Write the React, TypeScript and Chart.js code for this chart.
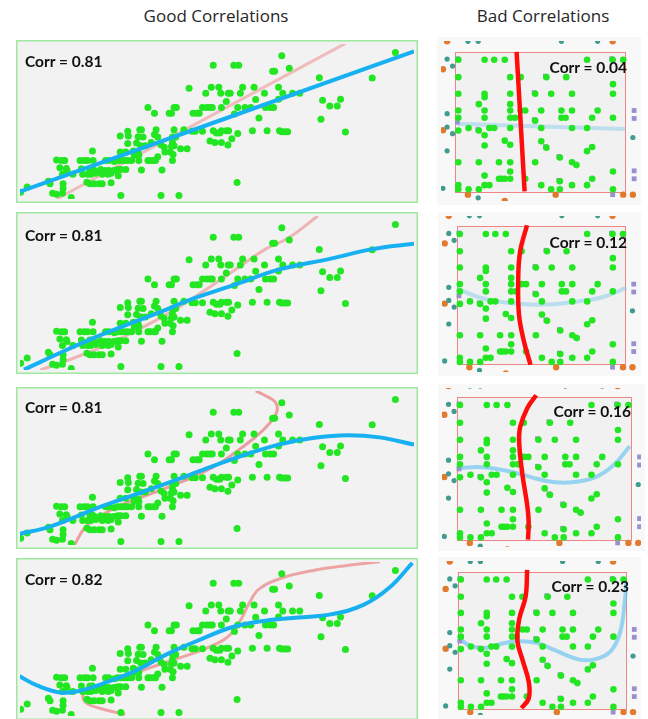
import React, { useEffect, useRef } from "react";
import { Chart, registerables } from "chart.js";
Chart.register(...registerables);

// ---------- Good correlations: scatter values ----------
const goodX = [80.2,59.2,65.5,67.0,82.5,77.4,78.0,115.0,91.7,107.9,51.8,58.6,60.9,71.7,68.2,79.2,56.9,61.5,63.8,64.4,67.5,74.9,80.5,83.5,85.7,63.2,72.2,79.2,92.7,94.9,97.2,98.2,39.2,47.2,47.9,55.9,57.2,58.2,58.9,61.7,66.7,68.9,70.7,75.2,76.7,77.7,41.2,45.7,46.4,53.0,54.2,54.9,65.7,73.2,92.2,36.7,37.2,41.7,47.2,50.2,52.7,53.7,55.9,59.2,60.2,61.2,61.7,63.2,63.9,66.7,71.2,75.7,79.5,80.2,81.2,82.0,99.7,30.7,33.2,33.0,36.2,37.7,41.2,42.2,46.7,47.7,58.2,59.7,61.7,64.9,63.7,33.0,35.7,37.0,38.4,40.2,43.2,46.7,47.2,49.2,51.2,44.2,46.4,22.2,30.7,32.4,34.7,36.2,35.0,36.4,42.2,44.4,46.0,46.9,11.2,12.7,13.7,18.4,19.7,20.7,22.4,26.2,27.2,28.9,29.9,30.9,32.0,33.0,34.2,36.4,39.2,39.9,40.9,41.5,46.7,12.2,14.2,14.4,18.8,21.4,22.2,22.8,24.7,26.2,27.3,28.8,30.0,30.9,32.4,37.2,43.5,13.0,16.2,19.2,20.7,21.7,23.2,25.2,27.0,27.9,30.1,8.7,9.2,13.2,20.5,21.4,22.7,24.2,25.2,27.9,66.5,2.2,13.2,0.2,10.0,11.2,13.0,15.7,30.9,43.2,48.7];
const goodY = [45.1,42.1,42.1,42.1,41.2,40.2,40.2,46.1,38.2,38.1,34.9,35.2,35.2,35.2,35.2,35.2,33.3,33.3,33.3,33.3,33.3,33.3,33.3,33.3,33.3,30.7,31.3,31.4,31.1,29.3,29.3,31.4,28.8,28.8,28.8,28.8,28.8,28.8,28.8,28.8,28.8,28.8,28.8,28.8,28.8,28.8,27.0,27.0,27.0,27.0,27.0,27.0,26.8,25.5,25.1,21.8,21.8,21.8,21.8,21.8,21.3,21.3,21.3,21.5,20.8,20.8,21.5,21.5,21.5,20.6,21.5,21.5,21.5,21.2,21.2,21.2,21.1,19.8,19.8,21.3,19.6,19.5,20.3,19.5,19.5,19.5,18.3,17.8,17.8,19.0,17.0,17.5,17.6,16.8,16.8,17.8,17.1,17.8,16.8,15.8,15.8,16.3,16.5,15.1,14.8,14.8,15.1,14.6,13.8,13.8,13.3,14.8,14.8,14.0,12.3,12.1,12.1,12.1,12.1,12.1,12.1,12.1,12.1,11.8,12.1,12.1,12.1,12.1,12.1,12.1,12.1,12.1,12.1,12.1,12.1,9.8,9.6,9.0,9.5,9.5,9.5,9.0,9.3,9.0,9.0,9.0,9.3,9.3,9.3,9.1,9.1,7.8,7.8,7.8,7.8,7.8,8.1,7.8,7.8,8.1,7.3,5.6,4.8,4.8,5.3,4.8,4.8,4.8,4.8,5.1,5.2,3.8,3.3,2.1,1.8,1.5,1.8,0.5,1.1,1.1,1.1];

// fitted curves (y on x = blue, x on y = pink)
const g1BlueX = [0, 120.7];
const g1BlueY = [2.3, 46.5];
const g1PinkX = [11.2, 99.7];
const g1PinkY = [0, 49];
const g2BlueX = [1.2,15.2,25.2,35.2,45.2,52.2,65.2,79.2,95.2,107.9,120.7];
const g2BlueY = [0.1,6.8,11.3,15.3,19.3,22.3,26.8,31.8,35.3,38.3,40.0];
const g2PinkX = [6.2,15.2,25.2,35.2,45.2,55.2,65.2,75.2,82.2,91.2];
const g2PinkY = [0,3.3,7.3,12.3,17.8,24.3,31.3,38.3,41.8,48.8];
const g3BlueX = [-0.3,9.2,25.2,40.2,52.2,65.2,79.2,90.2,100.2,110.2,120.7];
const g3BlueY = [3.5,5.8,12.3,17.8,22.3,27.3,31.8,34.0,34.8,34.1,31.8];
const g3PinkX = [16.7,19.7,23.2,30.2,40.2,50.2,60.2,67.2,72.2,76.2,78.7,78.2,75.2,72.2];
const g3PinkY = [0,5.3,8.3,12.3,16.3,20.3,25.3,30.3,34.3,38.3,42.3,45.3,47.3,48.8];
const g4BlueX = [-0.3,5.2,12.7,19.2,25.2,35.2,45.2,55.2,65.2,75.2,85.2,95.2,105.2,113.2,120.2];
const g4BlueY = [12.7,9.7,7.4,8.2,10.2,14.2,19.7,24.2,28.2,30.2,31.2,32.2,35.2,40.7,48.5];
const g4PinkX = [32.2,25.2,20.7,19.2,20.7,25.2,35.2,45.2,55.2,63.2,67.2,70.2,73.2,80.2,90.2,100.2,110.2];
const g4PinkY = [0.5,2.2,3.9,6.2,8.2,10.2,13.7,17.2,20.7,24.7,29.7,35.7,40.2,43.7,46.2,47.7,48.9];
const goodCorr = ["Corr = 0.81", "Corr = 0.81", "Corr = 0.81", "Corr = 0.82"];

// ---------- Bad correlations: scatter values ----------
const badX = [1.0,9.2,12.2,15.5,41.2,49.2,52.5,1.0,17.2,20.5,28.5,34.7,49.3,1.0,9.2,17.2,25.0,30.0,36.5,49.3,9.2,7.4,17.2,1.0,9.2,17.2,20.5,21.9,26.9,33.2,36.5,44.5,1.0,9.2,17.2,18.7,25.0,33.2,34.5,42.8,49.3,4.2,7.4,10.7,12.2,17.2,26.9,36.5,41.2,1.0,9.2,15.5,17.2,26.9,9.2,28.5,42.8,41.2,32.7,1.0,7.4,13.7,17.2,25.0,36.5,37.9,17.2,49.3,9.2,13.7,14.5,15.5,17.2,21.9,42.8,32.7,1.0,9.2,10.7,26.9,36.5,41.2,1.0,4.2,7.4,30.0,32.7,49.3];
const badY = [41.5,41.5,41.5,41.5,41.5,41.5,41.5,36.0,36.0,36.0,36.0,36.0,33.8,30.8,30.8,30.8,30.8,30.8,30.8,30.8,29.7,27.5,27.5,25.5,25.5,25.5,25.5,25.5,25.5,25.5,25.5,25.5,23.2,23.2,23.2,23.2,22.3,23.2,23.2,23.2,23.2,20.0,19.2,20.0,20.0,20.0,20.0,20.0,20.0,19.2,17.7,16.0,14.7,15.8,14.5,13.8,14.0,12.7,10.7,9.2,9.2,9.2,9.2,9.2,9.2,8.3,6.3,6.3,5.0,4.0,4.0,4.0,4.0,4.0,4.0,3.2,2.0,2.0,2.0,2.0,2.0,2.0,0.7,0.7,0.7,0.7,0.7,0.7];
const tealX = [-2.5,-0.8,-2.5,-2.5,-0.8,-2.5,-3.8,7.2,4.0,7.2,33.2,44.5,55.5];
const tealY = [41.7,39.5,24.5,20.3,18.2,12.8,1.0,-2.0,47.3,47.3,47.3,47.3,17.0];
const orangeX = [-3.8,-3.8,4.0,31.4,52.5,55.5,-2.5,49.2,15.5];
const orangeY = [38.5,19.3,-1.0,-1.0,-1.0,-1.0,47.3,47.3,-3.0];
const purpleX = [49.2,55.9,55.9,55.9,55.9,48.9,24.7,28.2,24.7,28.2,32.4,37.6,32.4,7.1,0.7,0.7];
const purpleY = [-1.0,25.5,23.0,6.5,4.0,41.8,31.1,36.3,22.6,14.1,11.0,8.6,3.5,19.5,21.8,41.8];

const b1RedX = [19.2, 21.7];
const b1RedY = [44.0, 0];
const b1BlueX = [0.7, 53.2];
const b1BlueY = [21.3, 19.7];
const b2RedX = [22.2,20.0,19.4,19.7,21.2,23.3];
const b2RedY = [44.3,35.7,25.6,15.5,7.4,-0.2];
const b2BlueX = [0,8.1,18.2,28.3,38.4,46.5,53.6];
const b2BlueY = [24.1,21.0,19.3,19.0,20.0,21.5,24.4];
const b3RedX = [24.3,21.6,19.4,19.1,20.1,21.6,22.0,21.8];
const b3RedY = [44.5,40.6,34.7,29.8,20.0,10.3,5.4,0];
const b3BlueX = [0,7.8,17.6,27.4,34.3,42.1,48.0,52.9];
const b3BlueY = [22.0,22.3,20.7,18.1,17.6,19.1,23.0,28.8];
const b4RedX = [22.0,21.5,19.5,18.9,20.5,22.5,22.5,20.2];
const b4RedY = [44.6,36.0,28.9,21.9,15.8,8.7,3.4,0.3];
const b4BlueX = [0.2,2.7,7.8,12.9,18.9,25.0,31.1,38.2,43.3,48.3,51.4,52.9,53.4];
const b4BlueY = [23.7,20.9,19.5,20.7,21.7,21.2,18.7,15.9,15.9,18.4,24.5,34.6,40.7];
const badCorr = ["Corr = 0.04", "Corr = 0.12", "Corr = 0.16", "Corr = 0.23"];

const GOOD_XMAX = 120.7;
const GOOD_YMAX = 48.8;
const BAD_XMAX = 53.2;
const BAD_YMAX = 44;

const pts = (xs: number[], ys: number[]) => xs.map((x, i) => ({ x, y: ys[i] }));

const lineDs = (xs: number[], ys: number[], color: string, width: number, order: number) => ({
  type: "scatter",
  data: pts(xs, ys),
  showLine: true,
  borderColor: color,
  backgroundColor: color,
  borderWidth: width,
  pointRadius: 0,
  tension: 0.4,
  fill: false,
  order,
});

const dotDs = (xs: number[], ys: number[], color: string, order: number, style = "circle", r = 3.5) => ({
  type: "scatter",
  data: pts(xs, ys),
  backgroundColor: color,
  borderWidth: 0,
  pointRadius: r,
  pointStyle: style,
  order,
});

const goodDeco = {
  id: "goodDeco",
  beforeDraw(chart: any) {
    const { ctx, width, height } = chart;
    ctx.save();
    ctx.fillStyle = "#f2f2f2";
    ctx.fillRect(0, 0, width, height);
    ctx.restore();
  },
  afterDraw(chart: any) {
    const { ctx, width, height } = chart;
    ctx.save();
    ctx.strokeStyle = "#9fe89f";
    ctx.lineWidth = 1.5;
    ctx.strokeRect(0.75, 0.75, width - 1.5, height - 1.5);
    ctx.restore();
  },
};

const badDeco = {
  id: "badDeco",
  beforeDraw(chart: any) {
    const { ctx, width, height } = chart;
    ctx.save();
    ctx.fillStyle = "#f8f8f8";
    ctx.fillRect(0, 0, width, height);
    ctx.restore();
  },
  beforeDatasetsDraw(chart: any) {
    const { ctx, scales } = chart;
    const l = scales.x.getPixelForValue(0);
    const r = scales.x.getPixelForValue(BAD_XMAX);
    const t = scales.y.getPixelForValue(BAD_YMAX);
    const b = scales.y.getPixelForValue(0);
    ctx.save();
    ctx.fillStyle = "#f1f1f1";
    ctx.fillRect(l, t, r - l, b - t);
    ctx.strokeStyle = "#f08585";
    ctx.lineWidth = 1;
    ctx.strokeRect(Math.round(l) + 0.5, Math.round(t) + 0.5, Math.round(r - l), Math.round(b - t));
    ctx.restore();
  },
};

type Rect = { left: number; top: number; width: number; height: number };

function ChartCanvas({ rect, config }: { rect: Rect; config: any }) {
  const ref = useRef<HTMLCanvasElement>(null);
  useEffect(() => {
    const chart = new Chart(ref.current as HTMLCanvasElement, config);
    return () => chart.destroy();
  }, []);
  return (
    <canvas
      ref={ref}
      width={rect.width}
      height={rect.height}
      style={{ position: "absolute", left: rect.left, top: rect.top, width: rect.width, height: rect.height }}
    />
  );
}

const baseOptions = (xmin: number, xmax: number, ymin: number, ymax: number) => ({
  animation: false,
  responsive: false,
  devicePixelRatio: 1,
  events: [],
  layout: { padding: 0 },
  scales: {
    x: { type: "linear", display: false, min: xmin, max: xmax },
    y: { type: "linear", display: false, min: ymin, max: ymax },
  },
  plugins: { legend: { display: false }, tooltip: { enabled: false }, title: { display: false } },
});

const goodRects: Rect[] = [
  { left: 16, top: 40, width: 402, height: 163 },
  { left: 16, top: 212, width: 402, height: 162 },
  { left: 16, top: 387, width: 402, height: 162 },
  { left: 16, top: 558, width: 402, height: 162 },
];
const goodCurves = [
  [g1BlueX, g1BlueY, g1PinkX, g1PinkY],
  [g2BlueX, g2BlueY, g2PinkX, g2PinkY],
  [g3BlueX, g3BlueY, g3PinkX, g3PinkY],
  [g4BlueX, g4BlueY, g4PinkX, g4PinkY],
];
const pinkColors = ["rgba(236,120,120,0.45)", "rgba(236,120,120,0.5)", "rgba(232,100,100,0.6)", "rgba(232,100,100,0.55)"];

// canvas rect and red-box rect (page pixels) for each bad panel
const badRects: Rect[] = [
  { left: 437, top: 37, width: 204, height: 168 },
  { left: 438, top: 212, width: 203, height: 164 },
  { left: 438, top: 384, width: 207, height: 167 },
  { left: 438, top: 557, width: 203, height: 162 },
];
const badBoxes = [
  { l: 451.7, t: 48.3, r: 629, b: 195 },
  { l: 453.3, t: 222.7, r: 628.7, b: 367.7 },
  { l: 453.3, t: 393.3, r: 634.3, b: 543.3 },
  { l: 454.3, t: 568.3, r: 629.3, b: 712.7 },
];
const badCurves = [
  [b1RedX, b1RedY, b1BlueX, b1BlueY],
  [b2RedX, b2RedY, b2BlueX, b2BlueY],
  [b3RedX, b3RedY, b3BlueX, b3BlueY],
  [b4RedX, b4RedY, b4BlueX, b4BlueY],
];
const lightBlue = ["rgba(140,205,235,0.5)", "rgba(140,205,235,0.55)", "rgba(100,195,240,0.65)", "rgba(100,195,240,0.65)"];

function goodConfig(i: number) {
  const [bx, by, px, py] = goodCurves[i];
  return {
    type: "scatter",
    data: {
      datasets: [
        lineDs(bx, by, "#17b1f2", 4, 0),
        dotDs(goodX, goodY, "#22e622", 1),
        lineDs(px, py, pinkColors[i], 3, 2),
      ],
    },
    options: { ...baseOptions(0, GOOD_XMAX, 0, GOOD_YMAX), plugins: { legend: { display: false }, tooltip: { enabled: false } } },
    plugins: [goodDeco],
  };
}

function badConfig(i: number) {
  const rc = badRects[i];
  const bx = badBoxes[i];
  const sx = BAD_XMAX / (bx.r - bx.l);
  const sy = BAD_YMAX / (bx.b - bx.t);
  const xmin = -(bx.l - rc.left) * sx;
  const xmax = BAD_XMAX + (rc.left + rc.width - bx.r) * sx;
  const ymin = -(rc.top + rc.height - bx.b) * sy;
  const ymax = BAD_YMAX + (bx.t - rc.top) * sy;
  const [rx, ry, lx, ly] = badCurves[i];
  return {
    type: "scatter",
    data: {
      datasets: [
        lineDs(rx, ry, "#ff0c0c", 4.5, 0),
        dotDs(badX, badY, "#22e622", 1, "circle", 3.3),
        dotDs(purpleX, purpleY, "#9a90cc", 2, "rect", 3.4),
        dotDs(tealX, tealY, "#3f9c8e", 2, "circle", 2.6),
        dotDs(orangeX, orangeY, "#e27a2e", 2, "circle", 3.2),
        lineDs(lx, ly, lightBlue[i], 4, 3),
      ],
    },
    options: { ...baseOptions(xmin, xmax, ymin, ymax), plugins: { legend: { display: false }, tooltip: { enabled: false } } },
    plugins: [badDeco],
  };
}

const goodLabelY = [61, 235, 407, 579];
const badLabel = [
  { right: 627, cy: 67 },
  { right: 627, cy: 242 },
  { right: 631, cy: 411 },
  { right: 629, cy: 586 },
];

const labelStyle: React.CSSProperties = {
  position: "absolute",
  fontFamily: "Lato, 'Open Sans', sans-serif",
  fontWeight: 700,
  fontSize: 15.5,
  lineHeight: "18px",
  height: 18,
  color: "#111",
  whiteSpace: "nowrap",
};

const titleStyle: React.CSSProperties = {
  position: "absolute",
  top: 5,
  textAlign: "center",
  fontFamily: "'Open Sans', sans-serif",
  fontSize: 17,
  lineHeight: "22px",
  color: "#262626",
  whiteSpace: "nowrap",
};

export default function App() {
  return (
    <div style={{ position: "absolute", left: 0, top: 0, width: 648, height: 719, overflow: "hidden", background: "#fff" }}>
      <div style={{ ...titleStyle, left: 96, width: 240 }}>Good Correlations</div>
      <div style={{ ...titleStyle, left: 443, width: 200 }}>Bad Correlations</div>
      {goodRects.map((r, i) => (
        <ChartCanvas key={"g" + i} rect={r} config={goodConfig(i)} />
      ))}
      {badRects.map((r, i) => (
        <ChartCanvas key={"b" + i} rect={r} config={badConfig(i)} />
      ))}
      {goodCorr.map((t, i) => (
        <div key={"gl" + i} style={{ ...labelStyle, left: 25, top: goodLabelY[i] - 9 }}>{t}</div>
      ))}
      {badCorr.map((t, i) => (
        <div key={"bl" + i} style={{ ...labelStyle, left: badLabel[i].right - 200, width: 200, textAlign: "right", top: badLabel[i].cy - 9 }}>{t}</div>
      ))}
    </div>
  );
}
